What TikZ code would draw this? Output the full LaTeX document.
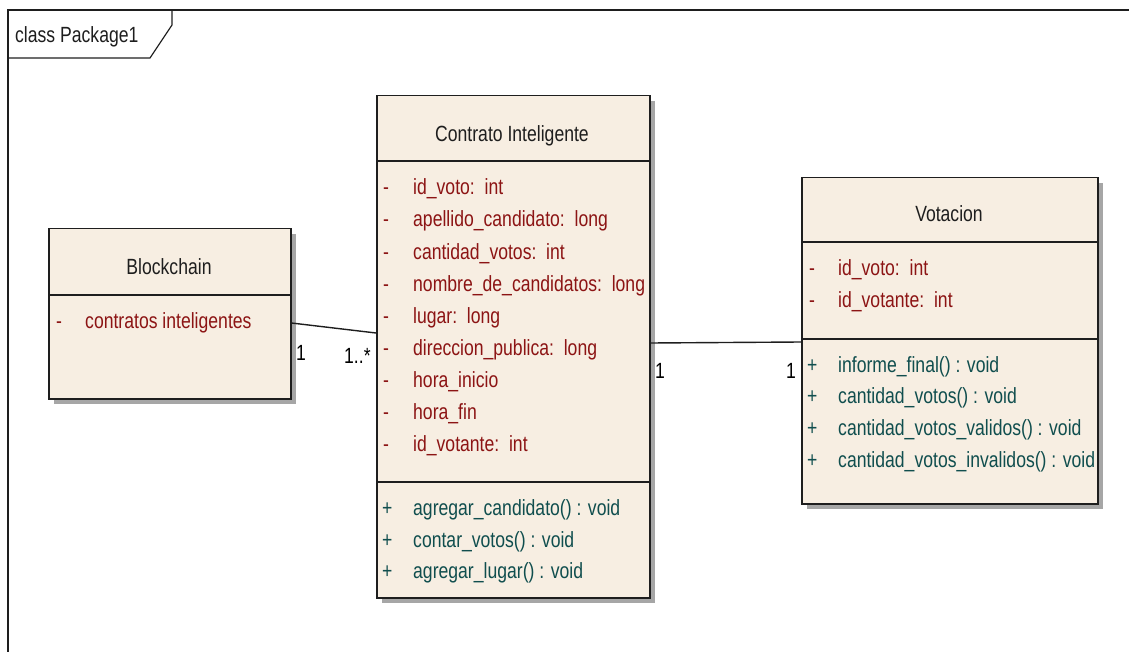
\documentclass[tikz,border=0pt]{standalone}
\usepackage{fontspec}
\setmainfont[FakeStretch=0.8]{Liberation Sans}
\usetikzlibrary{shadows}
\definecolor{boxfill}{RGB}{247,238,226}
\definecolor{attr}{RGB}{140,20,20}
\definecolor{meth}{RGB}{16,78,78}
\definecolor{ink}{RGB}{30,30,30}
\begin{document}
\begin{tikzpicture}[x=1pt,y=-1pt,
  every node/.style={font=\fontsize{22}{24}\selectfont, inner sep=0pt},
  umlbox/.style={draw=ink, line width=1.5pt, fill=boxfill, anchor=north west,
    drop shadow={shadow xshift=5pt, shadow yshift=-5pt, fill=black!35, opacity=1}},
  sep/.style={draw=ink, line width=1.5pt},
  title/.style={anchor=base, text=ink},
  vis/.style={anchor=base west},
  attrt/.style={anchor=base west, text=attr},
  metht/.style={anchor=base west, text=meth},
  conn/.style={draw=ink, line width=1.4pt},
  mult/.style={anchor=base west, text=black}]
\useasboundingbox (0,0) rectangle (1129,652);
% frame
\draw[ink, line width=1.2pt] (1129,10) -- (8,10) -- (8,652);
\draw[ink, line width=1.2pt] (8,58) -- (150,58) -- (172,25) -- (172,10);
\node[anchor=base west, text=ink] (pkg) at (15,43) {class Package1};
% boxes
\node[umlbox, minimum width=242pt, minimum height=170pt] (bc) at (48,228) {};
\node[umlbox, minimum width=273pt, minimum height=502pt] (ci) at (376,95) {};
\node[umlbox, minimum width=296pt, minimum height=326pt] (vt) at (801,177) {};
% dividers
\draw[sep] ([yshift=-67pt]bc.north west) -- ([yshift=-67pt]bc.north east);
\draw[sep] ([yshift=-66pt]ci.north west) -- ([yshift=-66pt]ci.north east);
\draw[sep] ([yshift=-387pt]ci.north west) -- ([yshift=-387pt]ci.north east);
\draw[sep] ([yshift=-65pt]vt.north west) -- ([yshift=-65pt]vt.north east);
\draw[sep] ([yshift=-162pt]vt.north west) -- ([yshift=-162pt]vt.north east);
% Blockchain
\node[title] (bct) at (169,275) {Blockchain};
\node[vis, text=attr] (bcv1) at (56,328) {-};
\node[attrt] (bca1) at (85,328) {contratos inteligentes};
% Contrato Inteligente
\node[title] (cit) at (512,142) {Contrato Inteligente};
\foreach \y/\t [count=\i] in {195/{id\_voto:\ \ int},227/{apellido\_candidato:\ \ long},259/{cantidad\_votos:\ \ int},291/{nombre\_de\_candidatos:\ \ long},323/{lugar:\ \ long},355/{direccion\_publica:\ \ long},387/{hora\_inicio},419/{hora\_fin},451/{id\_votante:\ \ int}}{
  \node[vis, text=attr] (civ\i) at (383,\y) {-};
  \node[attrt] (cia\i) at (413,\y) {\t};
}
\foreach \y/\t [count=\i] in {515/{agregar\_candidato() : void},547/{contar\_votos() : void},578/{agregar\_lugar() : void}}{
  \node[vis, text=meth] (cip\i) at (382,\y) {+};
  \node[metht] (cim\i) at (413,\y) {\t};
}
% Votacion
\node[title] (vtt) at (949,222) {Votacion};
\foreach \y/\t [count=\i] in {276/{id\_voto:\ \ int},307/{id\_votante:\ \ int}}{
  \node[vis, text=attr] (vtv\i) at (809,\y) {-};
  \node[attrt] (vta\i) at (838,\y) {\t};
}
\foreach \y/\t [count=\i] in {372/{informe\_final() : void},403/{cantidad\_votos() : void},435/{cantidad\_votos\_validos() : void},467/{cantidad\_votos\_invalidos() : void}}{
  \node[vis, text=meth] (vtp\i) at (807,\y) {+};
  \node[metht] (vtm\i) at (838,\y) {\t};
}
% connectors
\draw[conn] ([yshift=-95pt]bc.north east) -- ([yshift=-238pt]ci.north west);
\draw[conn] ([yshift=-248pt]ci.north east) -- ([yshift=-165pt]vt.north west);
\node[mult] (m1) at (296,360) {1};
\node[mult] (m2) at (344,363) {1..*};
\node[mult] (m3) at (655,378) {1};
\node[mult] (m4) at (786,378) {1};
\end{tikzpicture}
\end{document}
